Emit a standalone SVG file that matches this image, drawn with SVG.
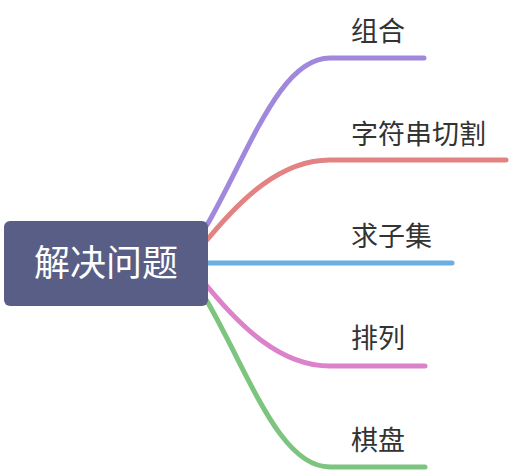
<svg xmlns="http://www.w3.org/2000/svg" width="510" height="472" viewBox="0 0 510 472">
<style>
.c{fill:none;stroke-width:5;stroke-linecap:round}
.t{font-family:"Noto Sans CJK SC","Noto Sans",sans-serif;font-size:27px;fill:#333333}
.root{font-family:"Noto Sans CJK SC","Noto Sans",sans-serif;font-size:36px;fill:#ffffff}
</style>
<rect width="510" height="472" fill="#ffffff"/>
<g id="connectors">
<path class="c" stroke="#a088dd" d="M207,225 C250,150 280,58 330,58 L424,58"/>
<path class="c" stroke="#e38282" d="M207,240 C240,200 280,160 330,160 L506,160"/>
<path class="c" stroke="#6aaee2" d="M207,263 L452,263"/>
<path class="c" stroke="#dc82ca" d="M207,286 C240,326 280,366 330,366 L425,366"/>
<path class="c" stroke="#7cc47f" d="M207,301 C250,376 280,467 330,467 L425,467"/>
</g>
<g id="root">
<rect x="4" y="221" width="204" height="85" rx="6" fill="#585e85"/>
<text class="root" x="106" y="276" text-anchor="middle">解决问题</text>
</g>
<g id="n1"><text class="t" x="351" y="41">组合</text></g>
<g id="n2"><text class="t" x="351" y="144">字符串切割</text></g>
<g id="n3"><text class="t" x="351" y="246">求子集</text></g>
<g id="n4"><text class="t" x="351" y="348">排列</text></g>
<g id="n5"><text class="t" x="351" y="450">棋盘</text></g>
</svg>
